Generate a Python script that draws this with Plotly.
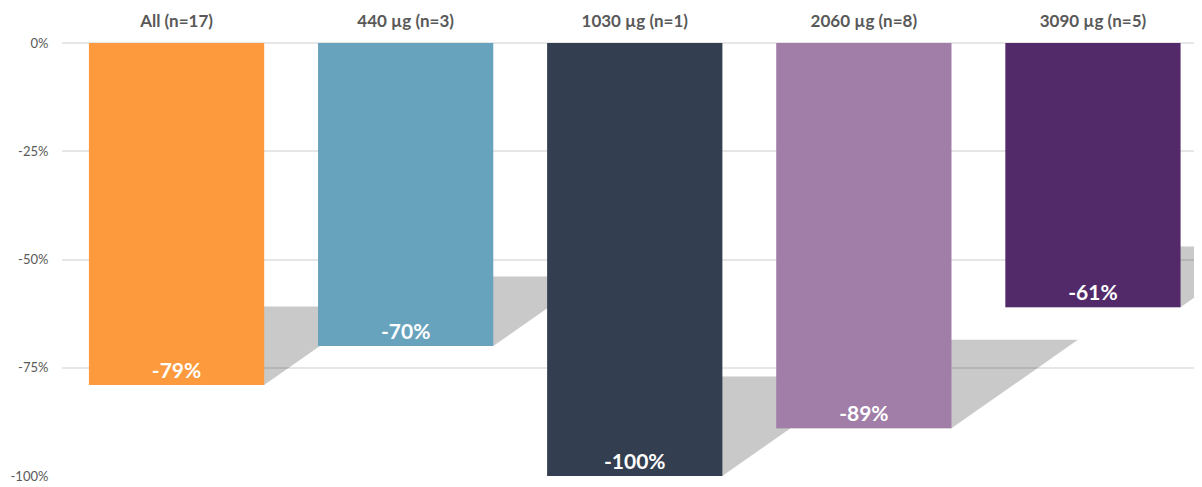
import plotly.graph_objects as go

categories = ["All (n=17)", "440 µg (n=3)", "1030 µg (n=1)", "2060 µg (n=8)", "3090 µg (n=5)"]
values = [-79, -70, -100, -89, -61]
colors = ["#FD9A3D", "#68A3BE", "#333E50", "#A17EA8", "#522A6A"]
y_ticks = [0, -25, -50, -75, -100]
y_tick_labels = ["0%", "-25%", "-50%", "-75%", "-100%"]

BAR_W = 0.765
SHADOW_DEPTH = 0.77     # shadow top as a fraction of bar value
SHADOW_SHEAR = 0.0062   # horizontal reach of shadow (category units per % of value)

fig = go.Figure()

fig.add_trace(go.Bar(
    x=list(range(len(categories))),
    y=values,
    width=BAR_W,
    marker=dict(color=colors, line=dict(width=0)),
    text=[f"{v}%" for v in values],
    textposition="inside",
    insidetextanchor="end",
    textangle=0,
    constraintext="none",
    textfont=dict(family="Lato", size=21, color="white", weight="bold"),
    hoverinfo="skip",
    showlegend=False,
))

# perspective shadows, placed between gridlines and bars
shapes = []
for i, v in enumerate(values):
    xr = i + BAR_W / 2
    xl = i - BAR_W / 2
    reach = SHADOW_SHEAR * abs(v)
    top = v * SHADOW_DEPTH
    path = (f"M {xl},{v} L {xr},{v} L {xr + reach},{top} "
            f"L {xl + reach},{top} Z")
    shapes.append(dict(
        type="path", path=path, xref="x", yref="y",
        fillcolor="rgba(0,0,0,0.21)", line=dict(width=0),
        layer="between",
    ))

fig.update_layout(
    width=1194, height=479,
    margin=dict(l=54, r=0, t=35, b=11),
    plot_bgcolor="white", paper_bgcolor="white",
    shapes=shapes,
    xaxis=dict(
        range=[-0.5, 4.476],
        side="top",
        automargin=False,
        tickmode="array",
        tickvals=list(range(len(categories))),
        ticktext=[f"<b>{c}</b>" for c in categories],
        tickfont=dict(family="Lato", size=17, color="#595959"),
        showgrid=False, zeroline=False, showline=False,
        ticks="outside", ticklen=8, tickcolor="rgba(0,0,0,0)",
    ),
    yaxis=dict(
        range=[-100, 0],
        automargin=False,
        tickmode="array",
        tickvals=y_ticks,
        ticktext=y_tick_labels,
        tickfont=dict(family="Lato", size=13, color="#595959"),
        showgrid=True, gridcolor="#E6E6E6", gridwidth=1.5,
        zeroline=True, zerolinecolor="#E6E6E6", zerolinewidth=1.5,
        showline=False,
        ticks="outside", ticklen=10, tickcolor="rgba(0,0,0,0)",
    ),
)

fig.write_html("out.html")
